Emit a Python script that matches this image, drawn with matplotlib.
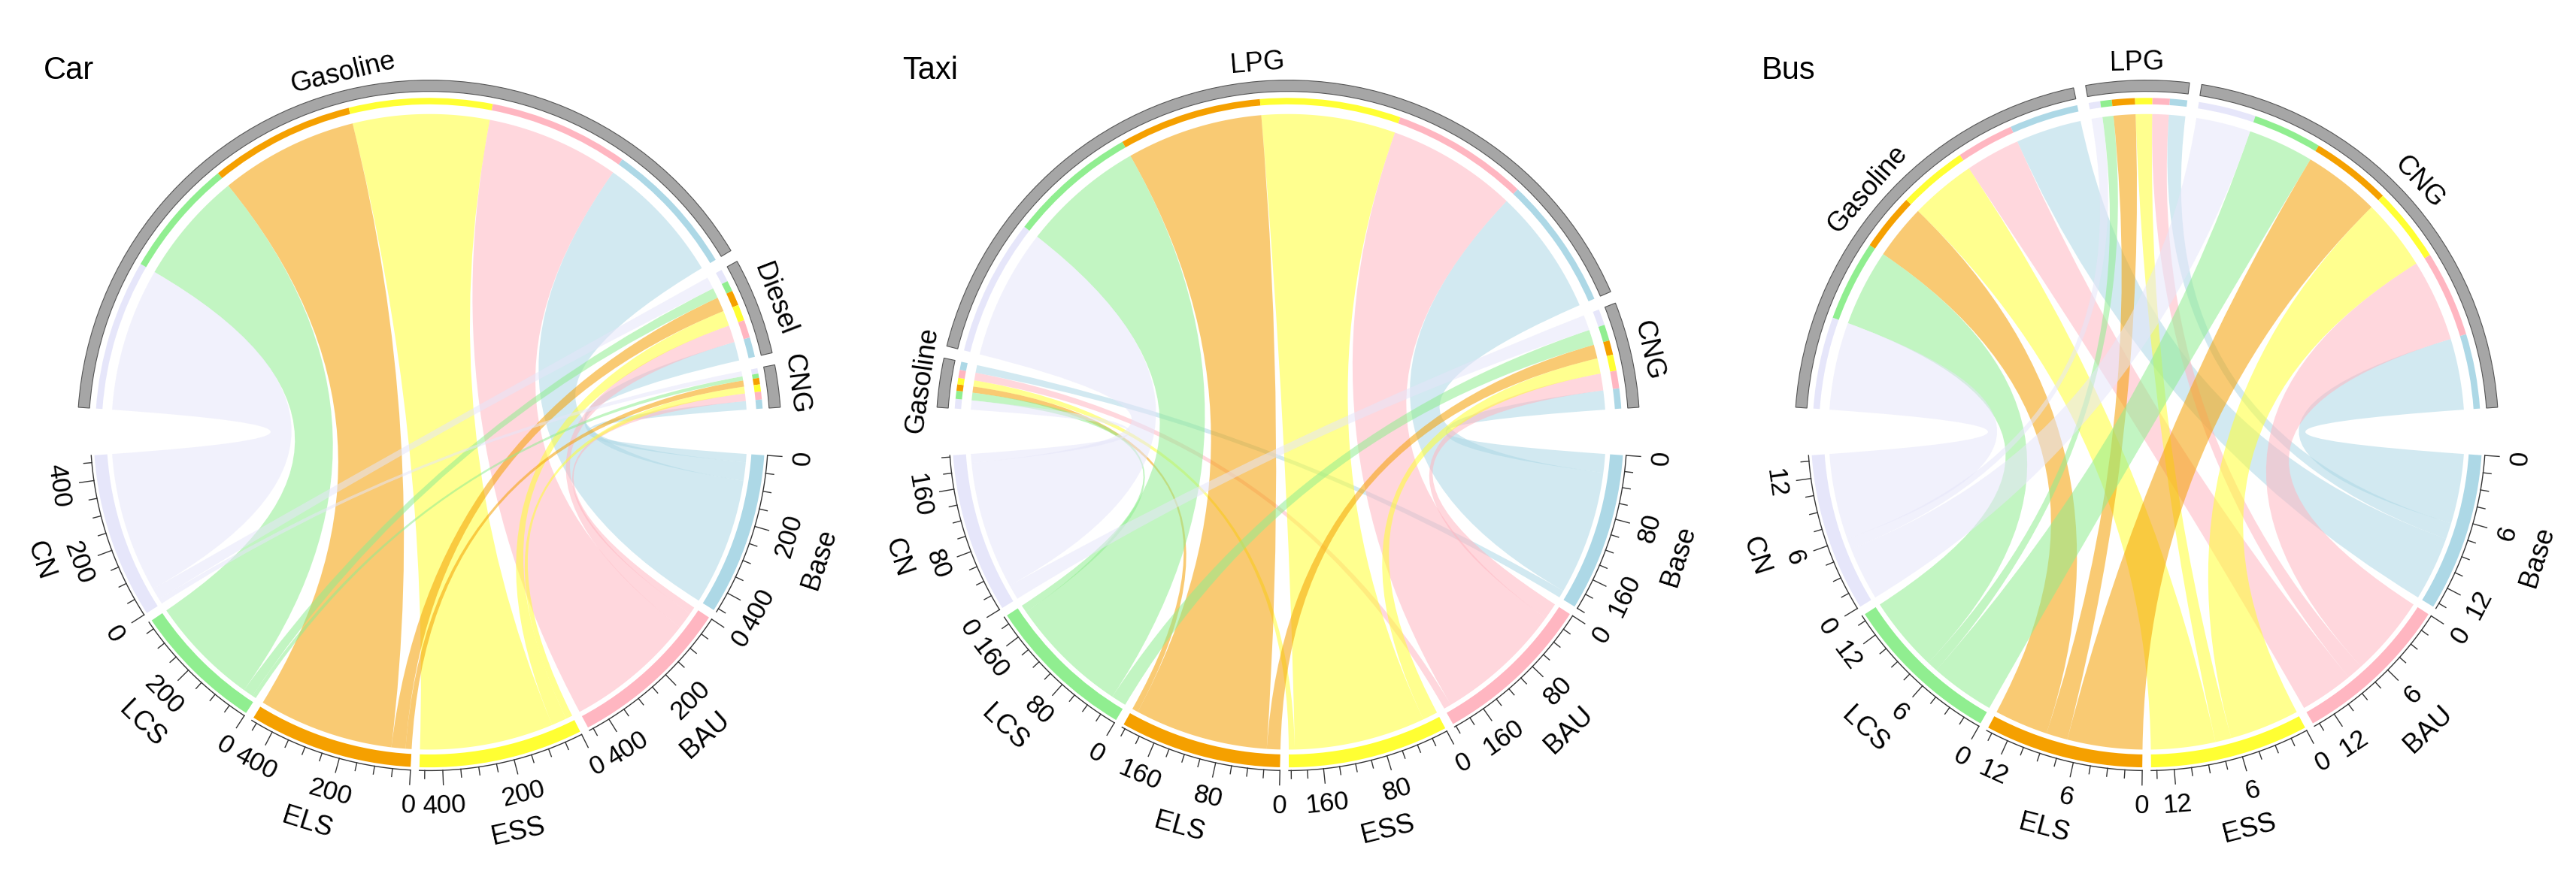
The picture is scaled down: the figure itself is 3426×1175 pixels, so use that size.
import numpy as np
import matplotlib.pyplot as plt
from matplotlib.path import Path
from matplotlib.patches import PathPatch, Wedge

plt.rcParams['font.family'] = ['Liberation Sans', 'DejaVu Sans']

scenarios = ["Base", "BAU", "ESS", "ELS", "LCS", "CN"]
colors = ["#add8e6", "#ffb6c1", "#ffff33", "#f5a000", "#90ee90", "#e6e6fa"]

car_fuels = ["Gasoline", "Diesel", "CNG"]
car_vals = [[380, 55, 25], [390, 50, 22], [400, 45, 20],
            [405, 42, 18], [330, 30, 12], [420, 35, 15]]
taxi_fuels = ["Gasoline", "LPG", "CNG"]
taxi_vals = [[10, 165, 25], [10, 170, 22], [8, 175, 20],
             [8, 178, 18], [10, 160, 20], [12, 170, 20]]
bus_fuels = ["Gasoline", "LPG", "CNG"]
bus_vals = [[6, 1.5, 6.5], [5, 1.5, 7.5], [6, 1.5, 6.5],
            [5, 2, 7], [7, 1, 6], [8, 1, 5]]
tick_steps = [200, 80, 6]
titles = ["Car", "Taxi", "Bus"]


def pt(r, a):
    t = np.radians(a)
    return r * np.cos(t), r * np.sin(t)


def arc(r, a1, a2, n=40):
    return [pt(r, a) for a in np.linspace(a1, a2, n)]


def layout(totals, start, end, gap):
    # clockwise from start to end (degrees, start > end)
    span = (start - end) - gap * (len(totals) - 1)
    k = span / sum(totals)
    out = []
    a = start
    for t in totals:
        out.append((a, a - t * k))
        a = a - t * k - gap
    return out, k


def chord(ax, f1, f2, s1, s2, color, r=0.985):
    verts, codes = [], []
    pts = arc(r, f1, f2)
    verts += pts
    codes += [Path.MOVETO] + [Path.LINETO] * (len(pts) - 1)
    verts += [(0, 0), pt(r, s1)]
    codes += [Path.CURVE3, Path.CURVE3]
    pts = arc(r, s1, s2)
    verts += pts[1:]
    codes += [Path.LINETO] * (len(pts) - 1)
    verts += [(0, 0), pt(r, f1)]
    codes += [Path.CURVE3, Path.CURVE3]
    ax.add_patch(PathPatch(Path(verts, codes), fc=color, ec='none', alpha=0.55))


def draw(ax, fuels, vals, step, title):
    vals = np.array(vals, dtype=float)
    nf = len(fuels)
    fuel_tot = vals.sum(axis=0)
    scen_tot = vals.sum(axis=1)
    fsec, fk = layout(fuel_tot, 176, 4, 2.0)
    ssec, sk = layout(scen_tot, -4, -176, 1.5)

    # fuel sectors: gray outer band, scenario-colored inner pieces (CN..Base left to right)
    fpos = {}
    for j, (a1, a2) in enumerate(fsec):
        ax.add_patch(Wedge((0, 0), 1.09, a2, a1, width=0.035, fc='#a6a6a6', ec='#555555', lw=0.8))
        mid = (a1 + a2) / 2
        x, y = pt(1.145, mid)
        ax.text(x, y, fuels[j], rotation=mid - 90, ha='center', va='center', fontsize=26)
        a = a1
        for i in reversed(range(len(scenarios))):
            w = vals[i, j] * fk
            ax.add_patch(Wedge((0, 0), 1.035, a - w, a, width=0.02, fc=colors[i], ec='none'))
            fpos[(i, j)] = (a, a - w)
            a -= w

    # scenario sectors with ticks
    for i, (a1, a2) in enumerate(ssec):
        ax.add_patch(Wedge((0, 0), 1.04, a2, a1, width=0.04, fc=colors[i], ec='none'))
        v = 0.0
        minor = step / 4
        while v <= scen_tot[i] + 1e-9:
            a = a1 - v * sk
            major = abs(v / step - round(v / step)) < 1e-6
            L = 0.045 if major else 0.025
            p0, p1 = pt(1.05, a), pt(1.05 + L, a)
            ax.plot([p0[0], p1[0]], [p0[1], p1[1]], color='#333333', lw=1)
            if major:
                x, y = pt(1.16, a)
                lab = str(int(v)) if v == int(v) else str(v)
                ax.text(x, y, lab, rotation=a + 90, ha='center', va='center', fontsize=25)
            v += minor
        ax.plot(*zip(*arc(1.05, a1, a2)), color='#333333', lw=1)
        mid = (a1 + a2) / 2
        x, y = pt(1.27, mid)
        ax.text(x, y, scenarios[i], rotation=mid + 90, ha='center', va='center', fontsize=26)
        # chords: reverse fuel order along the scenario sector
        a = a1
        for j in reversed(range(nf)):
            w = vals[i, j] * sk
            f1, f2 = fpos[(i, j)]
            chord(ax, f1, f2, a, a - w, colors[i])
            a -= w

    ax.set_xlim(-1.33, 1.33)
    ax.set_ylim(-1.36, 1.30)
    ax.set_aspect('equal')
    ax.axis('off')


fig = plt.figure(figsize=(34.26, 11.75), dpi=100)
datasets = [(car_fuels, car_vals), (taxi_fuels, taxi_vals), (bus_fuels, bus_vals)]
for n, (fuels, vals) in enumerate(datasets):
    ax = fig.add_axes([n / 3, 0, 1 / 3, 1])
    draw(ax, fuels, vals, tick_steps[n], titles[n])
    fig.text(n / 3 + 0.017, 0.92, titles[n], fontsize=30, ha='left', va='center')

fig.savefig("out.png", dpi=100)
